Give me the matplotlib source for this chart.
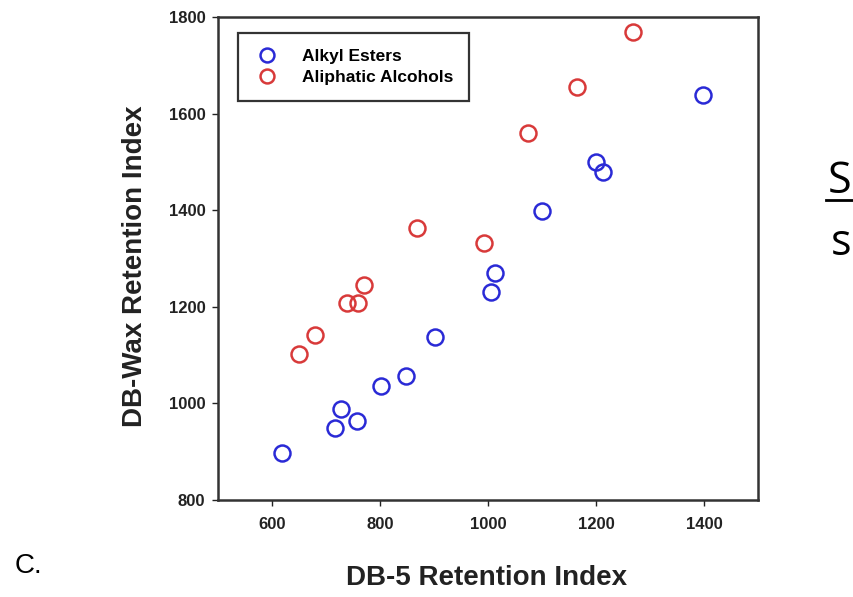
import matplotlib
matplotlib.use('Agg')
import matplotlib.pyplot as plt
from matplotlib.lines import Line2D

plt.rcParams['font.family'] = ['Liberation Sans', 'DejaVu Sans']

# Alkyl esters (DB-5 RI, DB-Wax RI)
esterX = [618, 717, 728, 757, 802, 848, 902, 1006, 1013, 1100, 1200, 1213, 1398]
esterY = [897, 949, 988, 964, 1036, 1057, 1137, 1231, 1269, 1398, 1500, 1479, 1639]
# Aliphatic alcohols
alcX = [650, 680, 739, 759, 770, 868, 993, 1074, 1165, 1269]
alcY = [1102, 1142, 1208, 1208, 1245, 1363, 1332, 1560, 1655, 1769]

xTicks = [600, 800, 1000, 1200, 1400]
yTicks = [800, 1000, 1200, 1400, 1600, 1800]

W, H = 854, 597
fig = plt.figure(figsize=(W / 100, H / 100), dpi=100)
ax = fig.add_axes([218 / W, 1 - 500 / H, 540 / W, 483 / H])

ax.plot(esterX, esterY, 'o', ms=11.5, mfc='none', mec='#2a2ad6', mew=1.8,
        label='Alkyl Esters', ls='none')
ax.plot(alcX, alcY, 'o', ms=11.5, mfc='none', mec='#d83a3a', mew=1.8,
        label='Aliphatic Alcohols', ls='none')

ax.set_xlim(500, 1500)
ax.set_ylim(800, 1800)
ax.set_xticks(xTicks)
ax.set_yticks(yTicks)
ax.tick_params(direction='out', length=4, width=1, labelsize=12,
               colors='#222222')
ax.tick_params(axis='x', pad=8)
ax.tick_params(axis='y', pad=5)
for lbl in ax.get_xticklabels() + ax.get_yticklabels():
    lbl.set_fontweight('bold')
for s in ax.spines.values():
    s.set_linewidth(1.8)
    s.set_color('#333333')

leg = ax.legend(loc='upper left', bbox_to_anchor=(0.037, 0.967), fancybox=False,
                framealpha=1, edgecolor='#333333', prop={'weight': 'bold', 'size': 12.5},
                handletextpad=1.2, borderpad=0.9, labelspacing=0.35,
                borderaxespad=0, handlelength=1.6)
leg.get_frame().set_linewidth(1.6)
for h in leg.legend_handles:
    h.set_markersize(10)

fig.text(135 / W, 1 - 266 / H, 'DB-Wax Retention Index', rotation=90,
         ha='center', va='center', fontsize=20, fontweight='bold', color='#222222')
fig.text(487 / W, 1 - 585 / H, 'DB-5 Retention Index', ha='center', va='baseline',
         fontsize=20, fontweight='bold', color='#222222')
fig.text(15 / W, 1 - 573 / H, 'C.', ha='left', va='baseline', fontsize=20)

# partial text at the right edge of the page
fig.text(851 / W, 1 - 193 / H, 'S', ha='right', va='baseline', fontsize=31,
         family='Open Sans')
fig.add_artist(Line2D([826 / W, 1.0], [1 - 200 / H, 1 - 200 / H], color='black', lw=2))
fig.text(851 / W, 1 - 255 / H, 's', ha='right', va='baseline', fontsize=31,
         family='Open Sans')

fig.savefig('out.png', dpi=100)
